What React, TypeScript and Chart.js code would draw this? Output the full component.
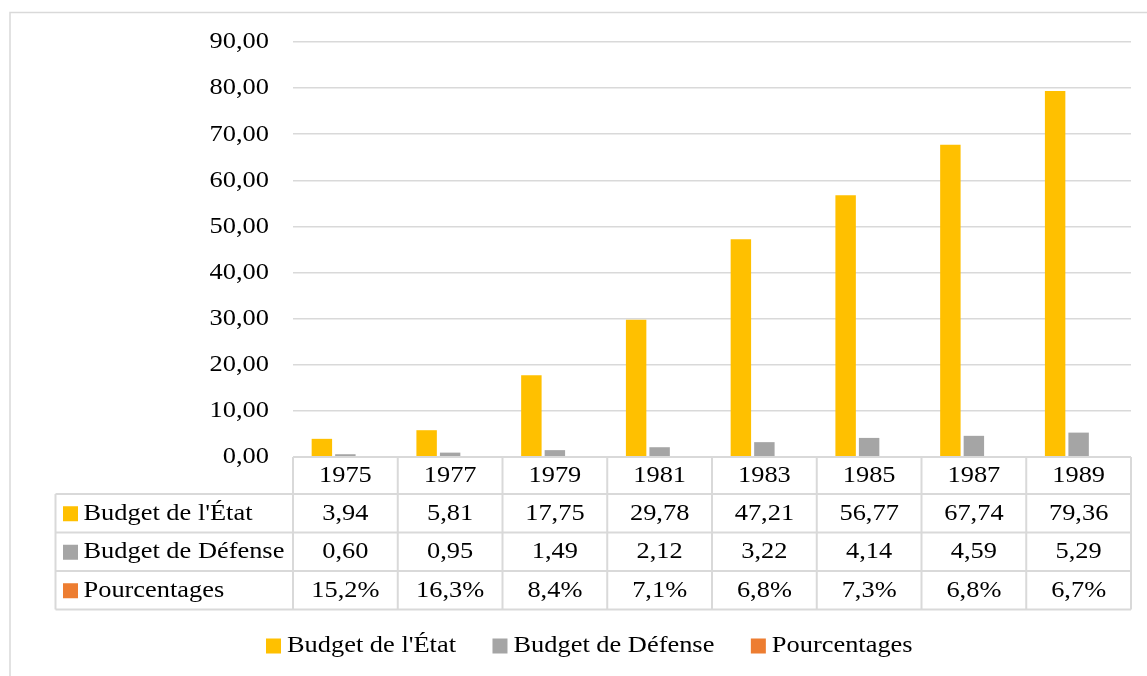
import React, { useEffect, useRef } from "react";
import { Chart, registerables } from "chart.js";

Chart.register(...registerables);

const years = ["1975", "1977", "1979", "1981", "1983", "1985", "1987", "1989"];
const budgetEtat = [3.94, 5.81, 17.75, 29.78, 47.21, 56.77, 67.74, 79.36];
const budgetDefense = [0.6, 0.95, 1.49, 2.12, 3.22, 4.14, 4.59, 5.29];
const pourcentages = [0.152, 0.163, 0.084, 0.071, 0.068, 0.073, 0.068, 0.067];
const seriesNames = ["Budget de l'État", "Budget de Défense", "Pourcentages"];
const seriesColors = ["#FFC000", "#A5A5A5", "#ED7D31"];

const FONT = '24px "Liberation Serif", "Times New Roman", serif';
const SX = 1.1;
const GRID = "#d9d9d9";

const fmtNum = (v: number) => v.toFixed(2).replace(".", ",");
const fmtPct = (v: number) => (v * 100).toFixed(1).replace(".", ",") + "%";

function stretchedText(ctx: CanvasRenderingContext2D, text: string, x: number, y: number, align: CanvasTextAlign) {
  ctx.save();
  ctx.translate(x, y);
  ctx.scale(SX, 1);
  ctx.textAlign = align;
  ctx.textBaseline = "middle";
  ctx.fillText(text, 0, 0);
  ctx.restore();
}

const tablePlugin = {
  id: "excelTable",
  afterDraw(chart: any) {
    const ctx: CanvasRenderingContext2D = chart.ctx;
    const area = chart.chartArea;
    const xs = chart.scales.x;
    const ys = chart.scales.y;
    ctx.save();
    ctx.font = FONT;
    ctx.fillStyle = "#000";

    // outer chart border
    ctx.strokeStyle = GRID;
    ctx.lineWidth = 1.5;
    ctx.strokeRect(10, 12.5, 3000, 3000);

    // y tick labels
    ys.ticks.forEach((t: any) => {
      const y = ys.getPixelForValue(t.value);
      stretchedText(ctx, fmtNum(t.value), area.left - 24, y, "right");
    });

    // table
    const n = years.length;
    const catW = (area.right - area.left) / n;
    const rowH = [37, 38.5, 38.5, 38.5];
    const rowTop: number[] = [area.bottom];
    for (let i = 0; i < rowH.length; i++) rowTop.push(rowTop[i] + rowH[i]);
    const leftX = 55.5;
    const colEdges: number[] = [];
    for (let i = 0; i <= n; i++) colEdges.push(area.left + i * catW);

    ctx.strokeStyle = GRID;
    ctx.lineWidth = 2;
    ctx.beginPath();
    // horizontal lines
    ctx.moveTo(area.left, rowTop[0]);
    ctx.lineTo(area.right, rowTop[0]);
    for (let r = 1; r < rowTop.length; r++) {
      ctx.moveTo(leftX, rowTop[r]);
      ctx.lineTo(area.right, rowTop[r]);
    }
    // vertical lines
    colEdges.forEach((x) => {
      ctx.moveTo(x, rowTop[0]);
      ctx.lineTo(x, rowTop[rowTop.length - 1]);
    });
    ctx.moveTo(leftX, rowTop[1]);
    ctx.lineTo(leftX, rowTop[rowTop.length - 1]);
    ctx.stroke();

    const rows = [budgetEtat.map(fmtNum), budgetDefense.map(fmtNum), pourcentages.map(fmtPct)];
    ctx.fillStyle = "#000";
    years.forEach((yr, i) => {
      const cx = xs.getPixelForValue(i);
      stretchedText(ctx, yr, cx, (rowTop[0] + rowTop[1]) / 2, "center");
      rows.forEach((row, r) => {
        stretchedText(ctx, row[i], cx, (rowTop[r + 1] + rowTop[r + 2]) / 2, "center");
      });
    });
    seriesNames.forEach((name, r) => {
      const cy = (rowTop[r + 1] + rowTop[r + 2]) / 2;
      ctx.fillStyle = seriesColors[r];
      ctx.fillRect(63, cy - 7, 15, 15);
      ctx.fillStyle = "#000";
      stretchedText(ctx, name, 83.5, cy, "left");
    });

    // legend
    let lx = 266;
    const ly = 646;
    seriesNames.forEach((name, r) => {
      ctx.fillStyle = seriesColors[r];
      ctx.fillRect(lx, ly - 7.5, 15, 15);
      ctx.fillStyle = "#000";
      stretchedText(ctx, name, lx + 21, ly, "left");
      lx += 21 + ctx.measureText(name).width * SX + 36.5;
    });
    ctx.restore();
  },
};

export default function App() {
  const ref = useRef<HTMLCanvasElement | null>(null);
  useEffect(() => {
    if (!ref.current) return;
    const chart = new Chart(ref.current, {
      type: "bar",
      data: {
        labels: years,
        datasets: [
          { label: seriesNames[0], data: budgetEtat, backgroundColor: seriesColors[0] },
          { label: seriesNames[1], data: budgetDefense, backgroundColor: seriesColors[1] },
          { label: seriesNames[2], data: pourcentages, backgroundColor: seriesColors[2] },
        ],
      },
      options: {
        responsive: false,
        animation: false,
        events: [],
        layout: { padding: { top: 42, bottom: 219, left: 0, right: 16 } },
        datasets: { bar: { categoryPercentage: 0.673, barPercentage: 0.87 } },
        plugins: { legend: { display: false }, tooltip: { enabled: false } },
        scales: {
          x: { display: false },
          y: {
            min: 0,
            max: 90,
            ticks: { stepSize: 10, display: false },
            border: { display: false },
            grid: { color: GRID, lineWidth: 1.5, drawTicks: false },
            afterFit: (s: any) => {
              s.width = 293;
            },
          },
        },
      } as any,
      plugins: [tablePlugin],
    });
    return () => chart.destroy();
  }, []);
  return (
    <div style={{ position: "fixed", left: 0, top: 0, width: 1147, height: 676, background: "#fff" }}>
      <canvas ref={ref} width={1147} height={676} style={{ display: "block" }} />
    </div>
  );
}
